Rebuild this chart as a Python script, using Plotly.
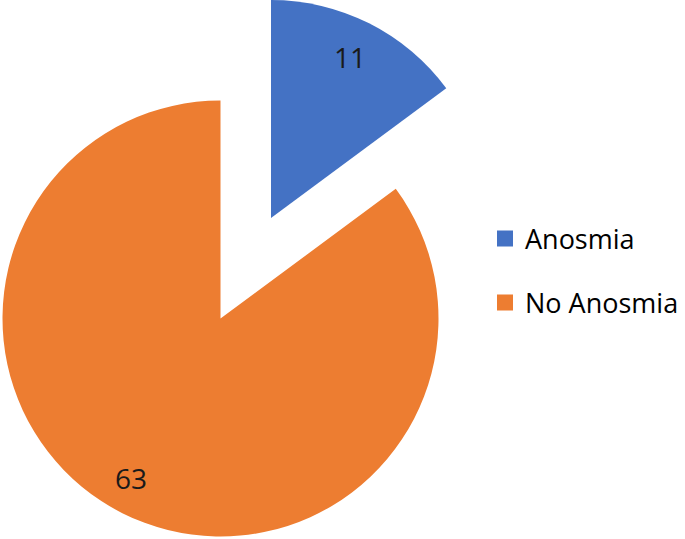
import math
import plotly.graph_objects as go

labels = ["Anosmia", "No Anosmia"]
values = [11, 63]
colors = ["#4472C4", "#ED7D31"]

W, H = 685, 539
R = 218
# pie centres in pixels (main pie and pulled-out slice)
main_c = (220.5, 318.5)
pull_c = (271.0, 218.0)
slice_centres = [pull_c, main_c]
label_frac = [0.81, 0.85]
label_angle_shift = [0.0, 2.0]  # degrees


def dom(c):
    cx, cy = c
    return dict(x=[(cx - R) / W, (cx + R) / W],
                y=[max(0, 1 - (cy + R) / H), min(1, 1 - (cy - R) / H)])


TRANSPARENT = "rgba(0,0,0,0)"
fig = go.Figure()

total = sum(values)
cum = 0
annotations = []
for idx in range(len(values)):
    c = slice_centres[idx]
    cols = [colors[i] if i == idx else TRANSPARENT for i in range(len(values))]
    fig.add_trace(go.Pie(
        labels=labels, values=values, sort=False, direction="clockwise",
        rotation=0, marker=dict(colors=cols, line=dict(width=0)),
        textinfo="none", domain=dom(c), showlegend=False, hoverinfo="skip",
    ))
    mid = (cum + values[idx] / 2) / total * 2 * math.pi
    mid += math.radians(label_angle_shift[idx])
    cum += values[idx]
    rr = label_frac[idx] * R
    px = c[0] + rr * math.sin(mid)
    py = c[1] - rr * math.cos(mid)
    annotations.append(dict(
        x=px / W, y=1 - py / H, xref="paper", yref="paper",
        text=str(values[idx]), showarrow=False,
        xanchor="center", yanchor="middle", yshift=3,
        font=dict(family="Open Sans", size=28, color="#1a1a1a"),
    ))

legend_names = ["legend", "legend2"]
for i, lab in enumerate(labels):
    fig.add_trace(go.Scatter(
        x=[None], y=[None], mode="markers", name=lab,
        marker=dict(symbol="square", size=16, color=colors[i]),
        legend=legend_names[i], showlegend=True,
    ))

leg_common = dict(font=dict(family="Open Sans", size=27, color="#000000"),
                  xanchor="left", yanchor="middle", borderwidth=0,
                  bgcolor="rgba(0,0,0,0)")
fig.update_layout(
    width=W, height=H,
    margin=dict(l=0, r=0, t=0, b=0),
    paper_bgcolor="white", plot_bgcolor="white",
    xaxis=dict(visible=False), yaxis=dict(visible=False),
    legend=dict(x=485 / W, y=1 - 239 / H, **leg_common),
    legend2=dict(x=485 / W, y=1 - 303 / H, **leg_common),
    annotations=annotations,
)

fig.write_html("out.html",
               config={"displayModeBar": False},
               post_script="document.body.style.margin='0';"
                           "document.body.style.overflow='hidden';")
